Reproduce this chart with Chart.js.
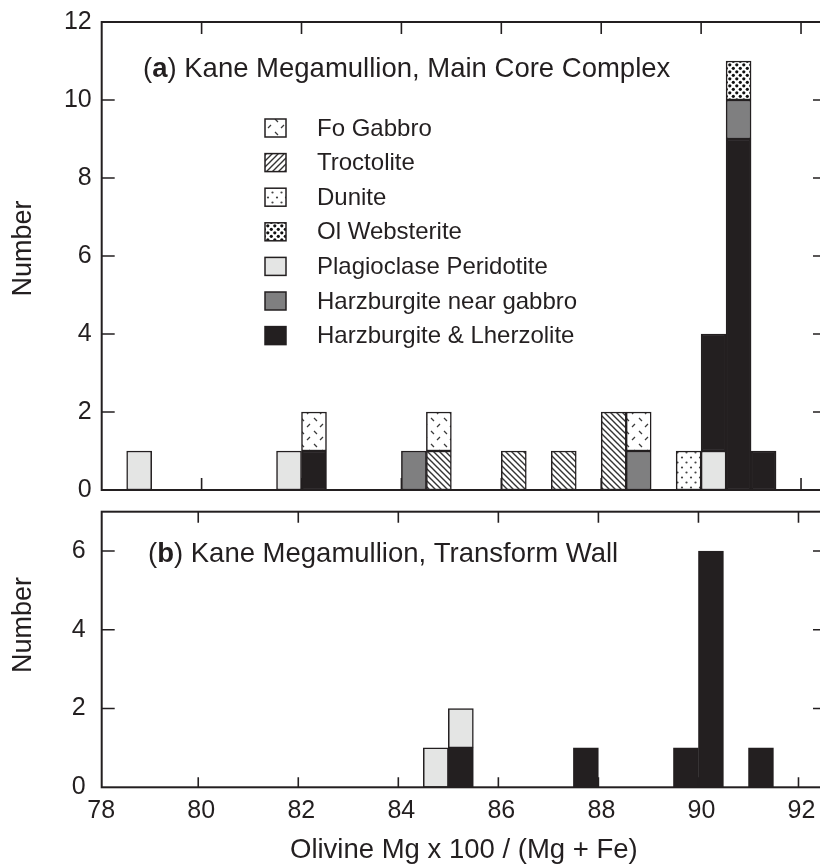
<!DOCTYPE html>
<html><head><meta charset="utf-8">
<script src="https://cdn.jsdelivr.net/npm/chart.js@4"></script>
<style>
html,body{margin:0;padding:0;background:#fff;overflow:hidden;width:820px;height:864px;}
#ca{position:absolute;left:0;top:0;}
#cb{position:absolute;left:0;top:500px;}
</style></head><body>
<canvas id="ca" width="830" height="500"></canvas>
<canvas id="cb" width="830" height="364"></canvas>
<script>
const FONT = '"Liberation Sans", Arial, Helvetica, sans-serif';
const INK = '#231f20';

// ---- tick values ----
const xTickValues = [78, 80, 82, 84, 86, 88, 90, 92];
const topYTicks = [0, 2, 4, 6, 8, 10, 12];
const botYTicks = [0, 2, 4, 6];

// ---- panel (a): bin centres (0.5-wide bins) and counts per rock type ----
const topBins     = [78.75, 81.75, 82.25, 84.25, 84.75, 86.25, 87.25, 88.25, 88.75, 89.75, 90.25, 90.75, 91.25];
const topPlag     = [1, 1, 0, 0, 0, 0, 0, 0, 0, 0, 1, 0, 0];
const topHarzLh   = [0, 0, 1, 0, 0, 0, 0, 0, 0, 0, 3, 9, 1];
const topHarzGab  = [0, 0, 0, 1, 0, 0, 0, 0, 1, 0, 0, 1, 0];
const topTroct    = [0, 0, 0, 0, 1, 1, 1, 2, 0, 0, 0, 0, 0];
const topDunite   = [0, 0, 0, 0, 0, 0, 0, 0, 0, 1, 0, 0, 0];
const topOlWeb    = [0, 0, 0, 0, 0, 0, 0, 0, 0, 0, 0, 1, 0];
const topFoGab    = [0, 0, 1, 0, 1, 0, 0, 0, 1, 0, 0, 0, 0];

// ---- panel (b) ----
const botBins     = [84.75, 85.25, 87.75, 89.75, 90.25, 91.25];
const botHarzLh   = [0, 1, 1, 1, 6, 1];
const botPlag     = [1, 1, 0, 0, 0, 0];

const legendOrder = ['Fo Gabbro', 'Troctolite', 'Dunite', 'Ol Websterite',
  'Plagioclase Peridotite', 'Harzburgite near gabbro', 'Harzburgite & Lherzolite'];

// ---- fill patterns ----
function tile(w, h, draw) {
  const c = document.createElement('canvas'); c.width = w; c.height = h;
  const g = c.getContext('2d'); g.fillStyle = '#fff'; g.fillRect(0, 0, w, h);
  draw(g, w, h);
  return g.createPattern(c, 'repeat');
}
const patFo = tile(13, 13, (g) => {
  g.strokeStyle = '#3a3a3a'; g.lineWidth = 1.3; g.beginPath();
  g.moveTo(2, 2); g.lineTo(5, 5);
  g.moveTo(8, 11); g.lineTo(11, 8);
  g.stroke();
});
function hatch(dir) {
  return tile(6, 6, (g, w) => {
    g.strokeStyle = '#333'; g.lineWidth = 1.4; g.beginPath();
    for (let k = -w; k <= w; k += w) {
      if (dir > 0) { g.moveTo(k - 1, -1); g.lineTo(k + w + 1, w + 1); }
      else { g.moveTo(k - 1, w + 1); g.lineTo(k + w + 1, -1); }
    }
    g.stroke();
  });
}
const patTroc = hatch(1);
const patTrocLegend = hatch(-1);
const patDun = tile(9, 10, (g) => {
  g.fillStyle = '#444';
  g.beginPath(); g.arc(2.5, 2.5, 1.1, 0, Math.PI * 2); g.fill();
  g.beginPath(); g.arc(7, 7.5, 1.1, 0, Math.PI * 2); g.fill();
});
const patOl = tile(7, 7, (g) => {
  g.fillStyle = '#111';
  g.beginPath(); g.arc(1.8, 1.8, 1.6, 0, Math.PI * 2); g.fill();
  g.beginPath(); g.arc(5.3, 5.3, 1.6, 0, Math.PI * 2); g.fill();
});

const COL = { plag: '#e4e5e4', hng: '#7f7f80', hl: '#231f20' };

function pts(bins, vals) {
  return bins.map((x, i) => ({ x: x, y: vals[i] })).filter(p => p.y > 0);
}

function noPad(s) { s.paddingTop = 0; s.paddingBottom = 0; s.paddingLeft = 0; s.paddingRight = 0; }

function frame(yTicks, tlBottom, tlTop, tlY) {
  return {
    id: 'frame',
    beforeDatasetsDraw(chart) {
      const { ctx, chartArea: a, scales: { x, y } } = chart;
      ctx.save(); ctx.strokeStyle = INK; ctx.lineWidth = 1.6; ctx.beginPath();
      xTickValues.forEach(v => {
        const px = x.getPixelForValue(v);
        if (px <= a.left + 2 || px >= a.right - 2) return;
        ctx.moveTo(px, a.bottom); ctx.lineTo(px, a.bottom - tlBottom);
        ctx.moveTo(px, a.top); ctx.lineTo(px, a.top + tlTop);
      });
      yTicks.forEach(v => {
        const py = y.getPixelForValue(v);
        if (py >= a.bottom - 2 || py <= a.top + 2) return;
        ctx.moveTo(a.left, py); ctx.lineTo(a.left + tlY, py);
        ctx.moveTo(a.right, py); ctx.lineTo(a.right - tlY, py);
      });
      ctx.stroke(); ctx.restore();
    },
    afterDatasetsDraw(chart) {
      const { ctx, chartArea: a } = chart;
      ctx.save(); ctx.strokeStyle = INK; ctx.lineWidth = 2;
      ctx.strokeRect(a.left, a.top, a.right - a.left, a.bottom - a.top);
      ctx.restore();
    }
  };
}

function yTitle(cy) {
  return {
    id: 'ytitle',
    afterDraw(chart) {
      const ctx = chart.ctx; ctx.save();
      ctx.translate(24, cy); ctx.rotate(-Math.PI / 2);
      ctx.font = '27px ' + FONT; ctx.fillStyle = INK;
      ctx.textAlign = 'center'; ctx.textBaseline = 'middle';
      ctx.fillText('Number', 0, 0); ctx.restore();
    }
  };
}

function panelLabel(x, baseline, size, letter, rest) {
  return {
    id: 'panelLabel',
    afterDraw(chart) {
      const ctx = chart.ctx; ctx.save(); ctx.fillStyle = INK; ctx.textBaseline = 'alphabetic';
      let cx = x;
      ctx.font = size + 'px ' + FONT; ctx.fillText('(', cx, baseline); cx += ctx.measureText('(').width;
      ctx.font = 'bold ' + size + 'px ' + FONT; ctx.fillText(letter, cx, baseline); cx += ctx.measureText(letter).width;
      ctx.font = size + 'px ' + FONT; ctx.fillText(rest, cx, baseline);
      ctx.restore();
    }
  };
}

const legendPlugin = {
  id: 'insideLegend',
  afterDraw(chart) {
    const ctx = chart.ctx; ctx.save();
    legendOrder.forEach((lab, i) => {
      const ds = chart.data.datasets.find(d => d.label === lab);
      const cy = 128 + i * 34.6;
      ctx.fillStyle = lab === 'Troctolite' ? patTrocLegend : ds.backgroundColor;
      ctx.fillRect(265, cy - 9, 21, 18);
      ctx.strokeStyle = INK; ctx.lineWidth = 1.5;
      ctx.strokeRect(265, cy - 9, 21, 18);
      ctx.fillStyle = INK; ctx.font = '24px ' + FONT;
      ctx.textAlign = 'left'; ctx.textBaseline = 'middle';
      ctx.fillText(lab, 317, cy + 1);
    });
    ctx.restore();
  }
};

const barDefaults = { barPercentage: 1, categoryPercentage: 1, borderWidth: 1.5, borderColor: INK, borderSkipped: false };

function yAxis(max, ticks, pad) {
  return {
    stacked: true, min: 0, max: max,
    grid: { display: false, drawTicks: false }, border: { display: false },
    ticks: { font: { family: FONT, size: 25 }, color: INK, padding: pad, autoSkip: false },
    afterBuildTicks: s => { s.ticks = ticks.map(v => ({ value: v })); },
    afterFit: s => { s.width = 101.7; noPad(s); }
  };
}

// ---- panel (a) ----
new Chart(document.getElementById('ca'), {
  type: 'bar',
  data: {
    datasets: [
      { label: 'Plagioclase Peridotite', data: pts(topBins, topPlag), backgroundColor: COL.plag },
      { label: 'Harzburgite & Lherzolite', data: pts(topBins, topHarzLh), backgroundColor: COL.hl },
      { label: 'Harzburgite near gabbro', data: pts(topBins, topHarzGab), backgroundColor: COL.hng },
      { label: 'Troctolite', data: pts(topBins, topTroct), backgroundColor: patTroc },
      { label: 'Dunite', data: pts(topBins, topDunite), backgroundColor: patDun },
      { label: 'Ol Websterite', data: pts(topBins, topOlWeb), backgroundColor: patOl },
      { label: 'Fo Gabbro', data: pts(topBins, topFoGab), backgroundColor: patFo }
    ].map(d => Object.assign({}, barDefaults, d))
  },
  options: {
    responsive: false, animation: false, devicePixelRatio: 1,
    layout: { padding: { top: 22, right: 4, bottom: 10, left: 0 } },
    plugins: { legend: { display: false }, tooltip: { enabled: false } },
    scales: {
      x: { type: 'linear', offset: false, stacked: true, min: 78, max: 92.5, display: false,
           afterBuildTicks: s => { s.ticks = xTickValues.map(v => ({ value: v })); },
           afterFit: s => { noPad(s); } },
      y: yAxis(12, topYTicks, 10)
    }
  },
  plugins: [frame(topYTicks, 12, 12, 13), yTitle(248.5), legendPlugin,
            panelLabel(143, 77, 27.5, 'a', ') Kane Megamullion, Main Core Complex')]
});

// ---- panel (b) ----
new Chart(document.getElementById('cb'), {
  type: 'bar',
  data: {
    datasets: [
      { label: 'Harzburgite & Lherzolite', data: pts(botBins, botHarzLh), backgroundColor: COL.hl },
      { label: 'Plagioclase Peridotite', data: pts(botBins, botPlag), backgroundColor: COL.plag }
    ].map(d => Object.assign({}, barDefaults, d))
  },
  options: {
    responsive: false, animation: false, devicePixelRatio: 1,
    layout: { padding: { top: 11.7, right: 4, bottom: 0, left: 0 } },
    plugins: { legend: { display: false }, tooltip: { enabled: false } },
    scales: {
      x: { type: 'linear', offset: false, stacked: true, min: 78.07, max: 92.55,
           grid: { display: false, drawTicks: false }, border: { display: false },
           ticks: { font: { family: FONT, size: 25 }, color: INK, padding: 9, labelOffset: 3,
                    autoSkip: false, maxRotation: 0 },
           title: { display: true, text: 'Olivine Mg x 100 / (Mg + Fe)', color: INK,
                    font: { family: FONT, size: 27.5, lineHeight: 1 }, padding: { top: 0, bottom: 0 } },
           afterBuildTicks: s => { s.ticks = xTickValues.map(v => ({ value: v })); },
           afterFit: s => { s.height = 76.7; noPad(s); } },
      y: yAxis(7, botYTicks, 16)
    }
  },
  plugins: [frame(botYTicks, 10, 11, 13), yTitle(125),
            panelLabel(148, 61.7, 27.5, 'b', ') Kane Megamullion, Transform Wall')]
});
</script>
</body></html>
